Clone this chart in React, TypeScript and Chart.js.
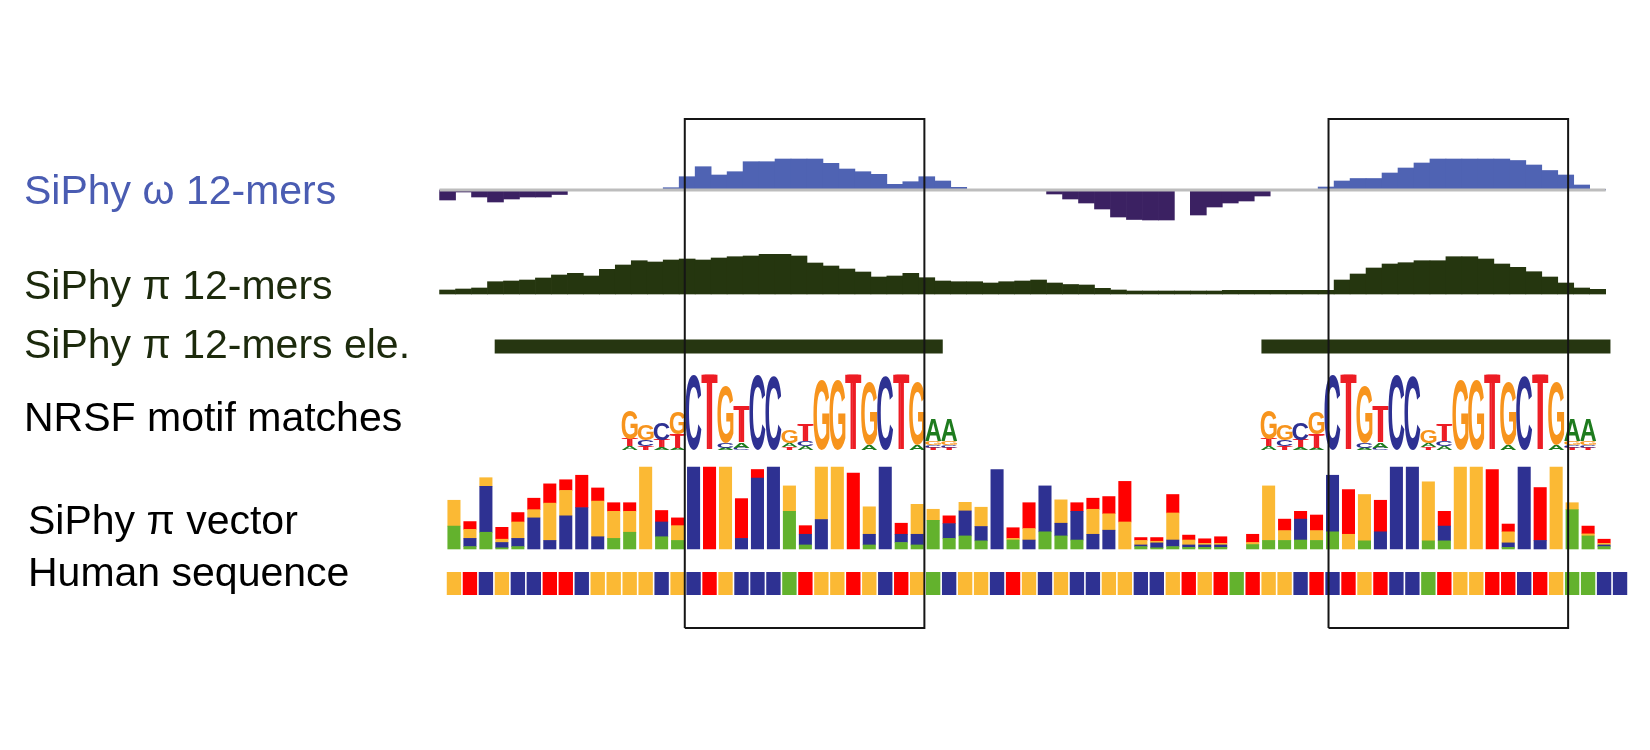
import React, { useEffect, useRef } from "react";
import { Chart, registerables } from "chart.js";

Chart.register(...registerables);

// ---------------- data ----------------
const TRACK_LABELS = [
  "SiPhy ω 12-mers",
  "SiPhy π 12-mers",
  "SiPhy π 12-mers ele.",
  "NRSF motif matches",
  "SiPhy π vector",
  "Human sequence",
];

// human sequence, one letter per base (index 0..73)
const HUMAN_SEQUENCE =
  "GTCGCCTTCGGGGCG" + "CTGCCCATGGTGCTG" + "ACGGCTGCGCCGGCCGTGTATGGCT" + "CTGTCCATGGTTCTGAACC";

// SiPhy omega 12-mer scores, one per track bin
const OMEGA_SCORES = [
  -1.0, -0.2, -0.7, -1.2, -0.9, -0.7, -0.7, -0.45, 0, 0,
  0, 0, 0, 0, 0.23, 1.33, 2.33, 1.5, 1.83, 2.83,
  2.83, 3.1, 3.1, 3.1, 2.67, 2.1, 1.83, 1.57, 0.57, 0.83,
  1.33, 0.9, 0.27, 0, 0, 0, 0, 0, -0.4, -0.9,
  -1.3, -1.9, -2.7, -2.95, -3.0, -3.0, 0, -2.5, -1.7, -1.3,
  -1.1, -0.6, 0, 0, 0, 0.3, 0.9, 1.15, 1.15, 1.7,
  2.2, 2.7, 3.1, 3.1, 3.1, 3.1, 3.1, 2.95, 2.5, 1.95,
  1.5, 0.5, 0.07,
];

// SiPhy pi 12-mer scores, one per track bin
const PI_SCORES = [
  0.4, 0.5, 0.6, 1.23, 1.3, 1.4, 1.6, 1.9, 2.07, 1.8,
  2.47, 2.9, 3.33, 3.2, 3.4, 3.5, 3.4, 3.6, 3.73, 3.8,
  3.97, 3.97, 3.8, 3.1, 2.8, 2.5, 2.2, 1.7, 1.8, 2.07,
  1.63, 1.3, 1.23, 1.23, 1.1, 1.23, 1.3, 1.4, 1.1, 0.95,
  0.9, 0.57, 0.4, 0.3, 0.3, 0.3, 0.3, 0.3, 0.3, 0.37,
  0.37, 0.37, 0.37, 0.37, 0.37, 0.37, 1.4, 2.0, 2.6, 3.0,
  3.13, 3.33, 3.33, 3.73, 3.73, 3.5, 3.0, 2.67, 2.23, 1.7,
  1.1, 0.6, 0.47,
];

// SiPhy pi 12-mer elements (base coordinates)
const ELE_STARTS = [2.55, 50.55];
const ELE_ENDS = [30.6, 72.4];

// SiPhy pi vector (per base, stacked A/C/G/T)
const VECTOR_A = [
  0.56, 0.06, 0.41, 0.03, 0.06, 0, 0, 0, 0, 0,
  0.26, 0.41, 0, 0.3, 0.21, 0, 0, 0, 0, 0,
  0, 0.92, 0.1, 0, 0, 0, 0.1, 0, 0.16, 0.1,
  0.7, 0.26, 0.32, 0.2, 0, 0.22, 0, 0.42, 0.32, 0.22,
  0, 0, 0, 0.06, 0.03, 0.06, 0.04, 0.04, 0.04, null,
  0.11, 0.21, 0.21, 0.22, 0.21, 0.42, 0, 0.2, 0, 0,
  0, 0.2, 0.2, 0, 0, 0, 0.04, 0, 0, 0,
  0.96, 0.32, 0.06, null,
];
const VECTOR_C = [
  0, 0.2, 1.12, 0.13, 0.2, 0.76, 0.21, 0.81, 1.01, 0.3,
  0, 0, 0, 0.36, 0, 2, 0, 0, 0.26, 1.73,
  2, 0, 0.26, 0.72, 0, 0, 0.26, 2, 0.2, 0.26,
  0, 0.36, 0.61, 0.35, 1.94, 0, 0.22, 1.12, 0.31, 0.7,
  0.36, 0.46, 0, 0.04, 0.12, 0.16, 0.06, 0.06, 0.06, null,
  0, 0, 0, 0.51, 0, 1.38, 0, 0, 0.42, 2,
  2, 0, 0.36, 0, 0, 0, 0.11, 2, 0.21, 0,
  0, 0, 0.04, null,
];
const VECTOR_G = [
  0.63, 0.22, 0.21, 0.08, 0.4, 0.2, 0.91, 0.62, 0, 0.87,
  0.66, 0.51, 2, 0, 0.36, 0, 0, 2, 0, 0,
  0, 0.62, 0, 1.28, 2, 0, 0.67, 0, 0, 0.73,
  0.27, 0, 0.21, 0.47, 0, 0.04, 0.28, 0, 0.57, 0,
  0.61, 0.4, 0.66, 0.11, 0.04, 0.66, 0.12, 0.04, 0.04, null,
  0.05, 1.33, 0.24, 0, 0.24, 0, 0.36, 1.13, 0, 0,
  0, 1.44, 0, 2, 2, 0, 0.27, 0, 0, 2,
  0.17, 0.05, 0.04, null,
];
const VECTOR_T = [
  0, 0.19, 0, 0.29, 0.23, 0.28, 0.47, 0.26, 0.79, 0.32,
  0.21, 0.21, 0, 0.28, 0.19, 0, 2, 0, 0.97, 0.21,
  0, 0, 0.21, 0, 0, 1.85, 0, 0, 0.27, 0,
  0, 0.19, 0, 0, 0, 0.26, 0.63, 0, 0, 0.21,
  0.27, 0.42, 0.99, 0.07, 0.09, 0.45, 0.12, 0.11, 0.16, null,
  0.2, 0, 0.28, 0.19, 0.38, 0, 1.09, 0, 0.77, 0,
  0, 0, 0.36, 0, 0, 1.94, 0.19, 0, 1.29, 0,
  0, 0.19, 0.1, null,
];

// NRSF motif logo: per column, letters bottom -> top with height in bits
const MOTIF_COLUMNS: [string, number][][] = [
  [["A", 0.1], ["T", 0.19], ["G", 0.78]],
  [["T", 0.1], ["C", 0.16], ["G", 0.43]],
  [["A", 0.08], ["T", 0.19], ["C", 0.47]],
  [["A", 0.05], ["T", 0.38], ["G", 0.6]],
  [["C", 2.0]],
  [["T", 2.0]],
  [["A", 0.06], ["C", 0.14], ["G", 1.5]],
  [["C", 0.06], ["A", 0.14], ["T", 0.95]],
  [["C", 2.0]],
  [["C", 1.95]],
  [["T", 0.08], ["A", 0.1], ["G", 0.36]],
  [["A", 0.1], ["C", 0.14], ["T", 0.45]],
  [["G", 1.86]],
  [["G", 1.86]],
  [["T", 2.0]],
  [["A", 0.14], ["G", 1.67]],
  [["C", 1.95]],
  [["T", 2.0]],
  [["A", 0.14], ["G", 1.67]],
  [["T", 0.06], ["C", 0.08], ["G", 0.11], ["A", 0.57]],
  [["T", 0.06], ["C", 0.08], ["G", 0.11], ["A", 0.57]],
];
// base index where each motif match begins
const MOTIF_STARTS = [11, 51];

// highlighted motif boxes (base coordinates)
const BOX_STARTS = [14.45, 54.75];
const BOX_ENDS = [29.45, 69.75];

// ---------------- styles ----------------
const NUC_COLORS: Record<string, string> = { A: "#63b22d", C: "#2e3192", G: "#fbb934", T: "#ff0000" };
const LOGO_COLORS: Record<string, string> = { A: "#1e7b1e", C: "#2e3192", G: "#f7941d", T: "#ed1c24" };
const LABEL_COLORS = ["#4a5cb2", "#1c2a0c", "#1c2a0c", "#000000", "#000000", "#000000"];
const LABEL_LEFT = [24, 24, 24, 24, 28, 28];
const LABEL_TOP = [170, 265, 324, 397, 500, 552];

const motifLogoPlugin = {
  id: "motifLogo",
  beforeDatasetsDraw(chart: any) {
    const ctx = chart.ctx as CanvasRenderingContext2D;
    const xs = chart.scales.x;
    const ys = chart.scales.yMotif;
    ctx.save();
    ctx.textAlign = "left";
    ctx.textBaseline = "alphabetic";
    MOTIF_STARTS.forEach((start) => {
      MOTIF_COLUMNS.forEach((col, j) => {
        const pos = start + j;
        const x0 = xs.getPixelForValue(pos - 0.5);
        const x1 = xs.getPixelForValue(pos + 0.5);
        let cum = 0;
        col.forEach(([letter, bits]) => {
          const yb = ys.getPixelForValue(cum);
          const yt = ys.getPixelForValue(cum + bits);
          cum += bits;
          const isT = letter === "T";
          ctx.font = isT
            ? '100px "Liberation Sans", Arial, sans-serif'
            : 'bold 100px "Liberation Sans", Arial, sans-serif';
          const m = ctx.measureText(letter);
          const gw = m.actualBoundingBoxLeft + m.actualBoundingBoxRight;
          const gh = m.actualBoundingBoxAscent + m.actualBoundingBoxDescent;
          // the heavy-stemmed T of the logo: smear the regular glyph sideways
          const smear = isT ? Math.min(1.6, (x1 - x0) * 0.1) : 0;
          const offsets = isT ? [0, smear, 2 * smear] : [0];
          ctx.fillStyle = LOGO_COLORS[letter];
          offsets.forEach((dx) => {
            ctx.save();
            ctx.translate(x0 + dx, yt);
            ctx.scale((x1 - x0 - 2 * smear) / gw, (yb - yt) / gh);
            ctx.fillText(letter, m.actualBoundingBoxLeft, m.actualBoundingBoxAscent);
            ctx.restore();
          });
        });
      });
    });
    ctx.restore();
  },
};

export default function App() {
  const ref = useRef<HTMLCanvasElement | null>(null);

  useEffect(() => {
    if (!ref.current) return;
    const seq = HUMAN_SEQUENCE.split("");
    const nz = (v: number | null) => (v === null || v === 0 ? null : v);

    const frameSets = BOX_STARTS.map((s, b) => ({
      type: "line" as const,
      xAxisID: "x",
      yAxisID: "yFrame",
      data: [
        { x: s, y: 0 },
        { x: s, y: 1 },
        { x: BOX_ENDS[b], y: 1 },
        { x: BOX_ENDS[b], y: 0 },
        { x: s, y: 0 },
      ],
      borderColor: "#151515",
      borderWidth: 2,
      borderJoinStyle: "miter" as const,
      pointRadius: 0,
      fill: false,
      tension: 0,
      clip: false as any,
      order: 0,
    }));

    const eleSets = ELE_STARTS.map((s, e) => ({
      type: "line" as const,
      xAxisID: "x",
      yAxisID: "yEle",
      data: [
        { x: s, y: 0.5 },
        { x: ELE_ENDS[e], y: 0.5 },
      ],
      borderColor: "#263611",
      borderWidth: 14,
      borderCapStyle: "butt" as const,
      pointRadius: 0,
      fill: false,
      order: 3,
    }));

    const vectorSet = (vals: (number | null)[], nuc: string) => ({
      type: "bar" as const,
      xAxisID: "x",
      yAxisID: "yVector",
      data: vals.map((v, i) => ({ x: i, y: nz(v) })),
      backgroundColor: NUC_COLORS[nuc],
      barPercentage: 0.78,
      categoryPercentage: 1,
      grouped: false,
      inflateAmount: 0.3,
      order: 4,
    });

    const chart = new Chart(ref.current, {
      type: "bar",
      data: {
        datasets: [
          ...frameSets,
          {
            type: "line",
            xAxisID: "xt",
            yAxisID: "yOmega",
            data: [
              { x: -0.5, y: 0 },
              { x: OMEGA_SCORES.length - 0.5, y: 0 },
            ],
            borderColor: "#bdbdbd",
            borderWidth: 3,
            pointRadius: 0,
            fill: false,
            order: 1,
          },
          {
            type: "bar",
            xAxisID: "xt",
            yAxisID: "yOmega",
            data: OMEGA_SCORES.map((v, k) => ({ x: k, y: nz(v) })),
            backgroundColor: OMEGA_SCORES.map((v) => (v >= 0 ? "#4f63b3" : "#3b2162")),
            barPercentage: 1,
            categoryPercentage: 1,
            grouped: false,
            order: 2,
          },
          {
            type: "bar",
            xAxisID: "xt",
            yAxisID: "yPi",
            data: PI_SCORES.map((v, k) => ({ x: k, y: v })),
            backgroundColor: "#25360f",
            barPercentage: 1,
            categoryPercentage: 1,
            grouped: false,
            order: 2,
          },
          ...eleSets,
          vectorSet(VECTOR_A, "A"),
          vectorSet(VECTOR_C, "C"),
          vectorSet(VECTOR_G, "G"),
          vectorSet(VECTOR_T, "T"),
          {
            type: "bar",
            xAxisID: "x",
            yAxisID: "ySeq",
            data: seq.map((_, i) => ({ x: i, y: [0, 1] })),
            backgroundColor: seq.map((b) => NUC_COLORS[b]),
            barPercentage: 0.9,
            categoryPercentage: 1,
            grouped: false,
            order: 4,
          },
        ] as any,
      },
      options: {
        responsive: false,
        maintainAspectRatio: false,
        animation: false,
        layout: { padding: { left: 430, right: 6, top: 119, bottom: 122 } },
        plugins: { legend: { display: false }, tooltip: { enabled: false } },
        scales: {
          x: { type: "linear", position: "bottom", offset: false, min: -1.5, max: 74.5, display: false, grid: { offset: false } },
          xt: { type: "linear", axis: "x", position: "bottom", offset: false, min: -1.1, max: 74.9, display: false, grid: { offset: false } },
          yOmega: { type: "linear", position: "right", stack: "tracks", stackWeight: 121, min: -5.0, max: 7.1, display: false },
          yPi: { type: "linear", position: "right", stack: "tracks", stackWeight: 82, min: -2.8, max: 5.4, display: false },
          yEle: { type: "linear", position: "right", stack: "tracks", stackWeight: 49, min: 0, max: 1, display: false },
          yMotif: { type: "linear", position: "right", stack: "tracks", stackWeight: 84, min: -0.133, max: 2.107, display: false },
          yVector: { type: "linear", position: "right", stack: "tracks", stackWeight: 105, min: -0.268, max: 2.293, stacked: true, display: false },
          ySeq: { type: "linear", position: "right", stack: "tracks", stackWeight: 68, min: -1.435, max: 1.522, display: false },
          yFrame: { type: "linear", position: "right", min: 0, max: 1, display: false },
        } as any,
      },
      plugins: [motifLogoPlugin],
    });
    return () => chart.destroy();
  }, []);

  return (
    <div style={{ position: "absolute", left: 0, top: 0, width: 1650, height: 750, background: "#ffffff" }}>
      <canvas
        ref={ref}
        width={1650}
        height={750}
        style={{ position: "absolute", left: 0, top: 0, width: 1650, height: 750 }}
      />
      {TRACK_LABELS.map((t, i) => (
        <div
          key={i}
          style={{
            position: "absolute",
            left: LABEL_LEFT[i],
            top: LABEL_TOP[i],
            font: '41px "Liberation Sans", Arial, sans-serif',
            lineHeight: "41px",
            color: LABEL_COLORS[i],
            whiteSpace: "nowrap",
          }}
        >
          {t}
        </div>
      ))}
    </div>
  );
}
